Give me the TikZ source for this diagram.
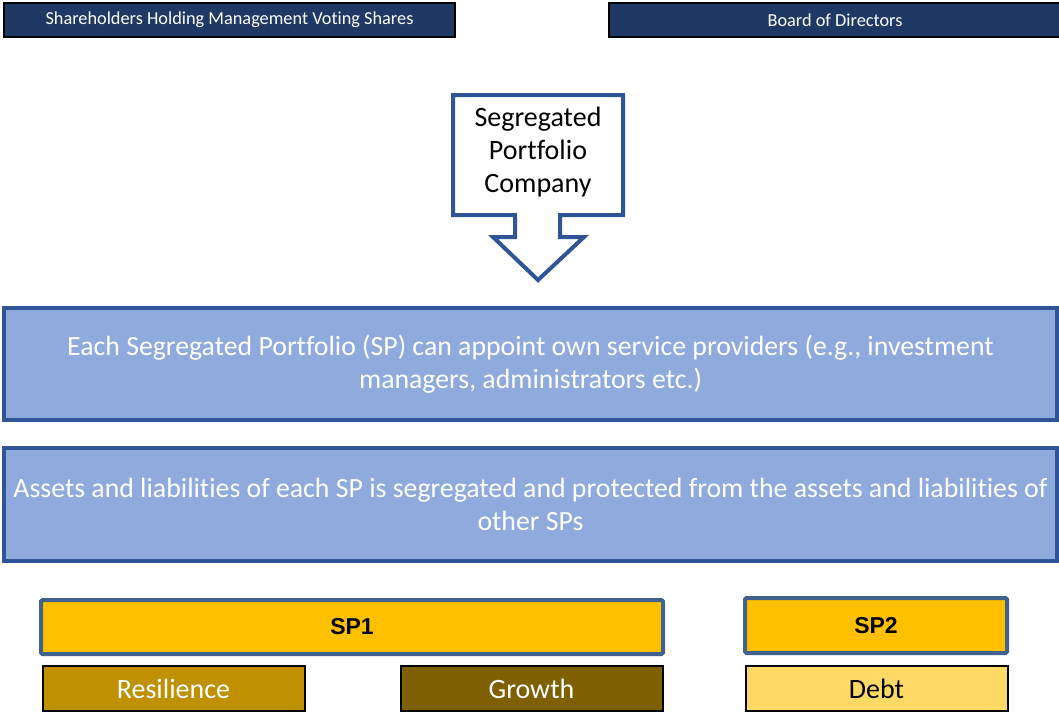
\documentclass[tikz,border=0pt]{standalone}
\usepackage{fontspec}
\setmainfont{Carlito}[Ligatures=NoCommon]
\newfontfamily\arialfont{Liberation Sans}
\usepackage{xcolor}
\definecolor{navy}{HTML}{203864}
\definecolor{spcblue}{HTML}{2F5597}
\definecolor{lightblue}{HTML}{8FAADC}
\definecolor{gold}{HTML}{FFC000}
\definecolor{slateblue}{HTML}{41628F}
\definecolor{darkgold}{HTML}{BF9000}
\definecolor{olive}{HTML}{7F6000}
\definecolor{paleyellow}{HTML}{FFD966}
\usepackage{tikz}
\tikzset{
    topbox/.style = {draw=black, line width=1.2pt, fill=navy, text=white, inner sep=0pt,
      minimum height=34pt, font=\fontsize{18.3}{21}\selectfont},
    infobox/.style = {draw=spcblue, line width=4pt, fill=lightblue, text=white, inner sep=0pt,
      minimum width=1053pt, align=center, font=\fontsize{27.8}{33}\selectfont},
    spbox/.style = {draw=slateblue, line width=4pt, fill=gold, rounded corners=1.5pt, inner sep=0pt,
      font=\arialfont\bfseries\fontsize{23}{27}\selectfont},
    fundbox/.style = {draw=black, line width=2pt, inner sep=0pt, minimum width=262pt,
      minimum height=45pt, font=\fontsize{28}{33}\selectfont}
}
\begin{document}
\begin{tikzpicture}[x=1pt, y=-1pt]
      \useasboundingbox (0,0) rectangle (1059,713);
      \node[topbox, minimum width=451pt] (holders) at (229.5,20) {\raisebox{-1.5pt}{Shareholders Holding Management Voting Shares}};
      \node[topbox, minimum width=452pt] (board) at (835,20) {Board of Directors};

      \draw[spcblue, line width=4pt, fill=white, line join=miter]
        (453,95) -- (623,95) -- (623,215) -- (560,215) -- (560,237) -- (584,237)
        -- (538,280) -- (493,237) -- (515,237) -- (515,215) -- (453,215) -- cycle;
      \node[align=center, font=\fontsize{28}{33}\selectfont] (spc) at (538,152) {Segregated\\Portfolio\\Company};

      \node[infobox, minimum height=112pt] (providers) at (530.5,364)
        {Each Segregated Portfolio (SP) can appoint own service providers (e.g., investment\\managers, administrators etc.)};
      \node[infobox, minimum height=113pt] (assets) at (530.5,504.5)
        {Assets and liabilities of each SP is segregated and protected from the assets and liabilities of\\other SPs};

      \node[spbox, minimum width=622pt, minimum height=54pt] (sp1) at (352,627) {SP1};
      \node[spbox, minimum width=262pt, minimum height=55pt] (sp2) at (876,625.5) {SP2};

      \node[fundbox, fill=darkgold, text=white] (resilience) at (173.5,688.5) {Resilience};
      \node[fundbox, fill=olive, text=white] (growth) at (531.5,688.5) {Growth};
      \node[fundbox, fill=paleyellow] (debt) at (876.5,688.5) {Debt};
    \end{tikzpicture}
\end{document}
